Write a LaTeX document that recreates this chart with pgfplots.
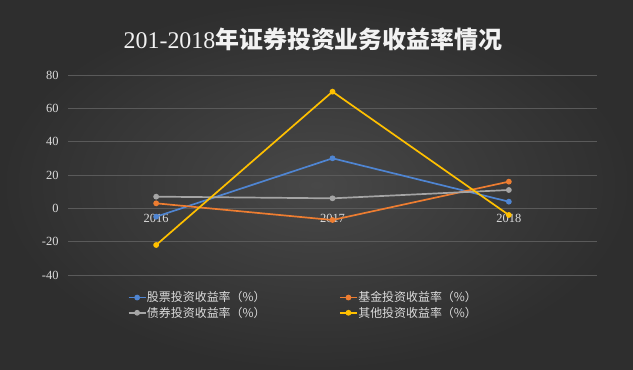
\documentclass[border=0pt]{standalone}
\usepackage{pgfplots}
\pgfplotsset{compat=1.18}
\usepackage{fontspec}
\setmainfont{Liberation Serif}
\newfontfamily\cjk{Noto Sans CJK SC}
\definecolor{bgin}{HTML}{484848}
\definecolor{bgout}{HTML}{2E2E2E}
\definecolor{gridc}{HTML}{5A5A5A}
\definecolor{txtc}{HTML}{DCDCDC}
\definecolor{titc}{HTML}{F2F2F2}
\definecolor{c1}{HTML}{4F85D2}
\definecolor{c2}{HTML}{ED7D31}
\definecolor{c3}{HTML}{A5A5A5}
\definecolor{c4}{HTML}{FFC000}
\begin{document}
\begin{tikzpicture}
\useasboundingbox (0bp,0bp) rectangle (633bp,370bp);
\shade[inner color=bgin, outer color=bgout] (0bp,0bp) rectangle (633bp,370bp);
\node[text=titc, font=\fontsize{24}{28}\selectfont, inner sep=0pt] at (313bp,331bp) {{201-2018}{\cjk\bfseries 年证券投资业务收益率情况}};
\begin{axis}[
  at={(68bp,95bp)}, anchor=south west, scale only axis,
  width=529bp, height=200bp,
  xmin=-0.5, xmax=2.5, ymin=-40, ymax=80,
  ytick={-40,-20,0,20,40,60,80},
  xtick={0,1,2}, xticklabels={2016,2017,2018},
  axis x line*=middle, axis y line*=left,
  axis line style={draw=none},
  major tick length=0pt,
  ymajorgrids, grid style={color=gridc, line width=0.7bp},
  tick label style={text=txtc, font=\fontsize{12.5}{14}\selectfont},
  /pgf/number format/assume math mode=true,
  yticklabel style={xshift=-6bp},
  xticklabel style={yshift=-2bp},
  every axis plot/.append style={line width=1.7bp, mark=*, mark size=2bp},
  legend columns=2,
  legend style={at={(0.107,-0.07)}, anchor=north west, draw=none, fill=none,
    text=txtc, font=\cjk\fontsize{12}{14}\selectfont,
    nodes={inner sep=0.5bp}, row sep=2.5bp,
    /tikz/column 2/.style={column sep=73bp}},
  legend image code/.code={\draw[#1] (0bp,0bp) -- (17bp,0bp); \draw[#1] plot coordinates {(8.5bp,0bp)};},
]
\addplot[color=c1] coordinates {(0,-5) (1,30) (2,4)};
\addlegendentry{股票投资收益率（\%）}
\addplot[color=c2] coordinates {(0,3) (1,-7) (2,16)};
\addlegendentry{基金投资收益率（\%）}
\addplot[color=c3] coordinates {(0,7) (1,6) (2,11)};
\addlegendentry{债券投资收益率（\%）}
\addplot[color=c4] coordinates {(0,-22) (1,70) (2,-4)};
\addlegendentry{其他投资收益率（\%）}
\end{axis}
\end{tikzpicture}
\end{document}
